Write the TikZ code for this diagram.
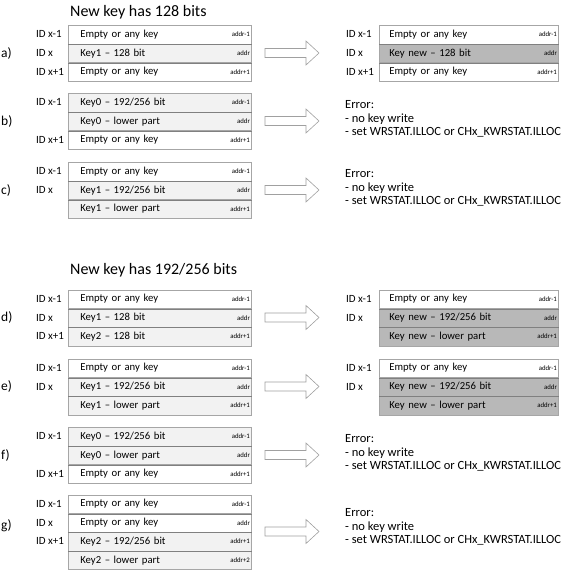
\documentclass[tikz,border=0pt]{standalone}
\usepackage{fontspec}
\setmainfont{Carlito}
\definecolor{lightrow}{HTML}{F2F2F2}
\definecolor{darkrow}{HTML}{B8B8B8}
\definecolor{boxline}{HTML}{A6A6A6}
\definecolor{divline}{HTML}{808080}
\definecolor{arrowline}{HTML}{A0A0A0}
\tikzset{
 rowL/.style={draw=boxline, line width=0.6pt, minimum height=18.7pt, text width=159pt,
   inner xsep=12pt, inner ysep=0pt, align=left, anchor=north west, text height=7.5pt, text depth=2pt,
   font=\fontsize{10.7}{12}\selectfont},
 rowR/.style={rowL, inner xsep=10pt},
 addrtxt/.style={anchor=east, inner xsep=1.5pt, inner ysep=0pt, font=\fontsize{6.8}{7}\selectfont},
 idlbl/.style={anchor=west, inner sep=0pt, font=\fontsize{11}{12}\selectfont},
 caselbl/.style={anchor=west, inner sep=0pt, font=\fontsize{13.5}{15}\selectfont},
 titletxt/.style={anchor=west, inner sep=0pt, font=\fontsize{16}{19}\selectfont},
 errtxt/.style={anchor=west, inner sep=0pt, align=left, font=\fontsize{12.5}{13.6}\selectfont},
 blockarrow/.style={draw=arrowline, fill=white, line width=0.6pt, line join=miter},
 divider/.style={draw=divline, line width=0.6pt},
}
\newcommand\keyrow[7]{%
 \node[#2, fill=#5] (#1) at (#3,#4) {#6};
 \node[addrtxt] (#1addr) at (#1.east) {#7};}
\newcommand\blkarrow[2]{%
 \coordinate (#1) at (265,#2);
 \draw[blockarrow] (#1) ++(0,-4.5) -- ++(41,0) -- ++(0,-7.5) -- ++(13,12) -- ++(-13,12) -- ++(0,-7.5) -- ++(-41,0) -- cycle;}
\newcommand\divline[1]{\draw[divider] (#1.south west) -- (#1.south east);}
\begin{document}
\begin{tikzpicture}[x=1pt,y=-1pt]
\useasboundingbox (0,0) rectangle (564,573);
% ---------- titles
\node[titletxt] (t1) at (70,12) {New key has 128 bits};
\node[titletxt] (t2) at (70,270) {New key has 192/256 bits};
% ---------- a)
\node[caselbl] (la) at (1,53.3) {a)};
\keyrow{a1}{rowL}{68}{25}{white}{Empty or any key}{addr-1}
\keyrow{a2}{rowL}{68}{43.7}{lightrow}{Key1 – 128 bit}{addr}
\keyrow{a3}{rowL}{68}{62.4}{white}{Empty or any key}{addr+1}
\divline{a1}\divline{a2}
\node[idlbl] at (36,34.35) {ID x-1};
\node[idlbl] at (36,53.05) {ID x};
\node[idlbl] at (36,71.75) {ID x+1};
\blkarrow{ara}{53}
\keyrow{ra1}{rowR}{379}{25}{white}{Empty or any key}{addr-1}
\keyrow{ra2}{rowR}{379}{43.7}{darkrow}{Key new – 128 bit}{addr}
\keyrow{ra3}{rowR}{379}{62.4}{white}{Empty or any key}{addr+1}
\divline{ra1}\divline{ra2}
\node[idlbl] at (346,34.35) {ID x-1};
\node[idlbl] at (346,53.05) {ID x};
\node[idlbl] at (346,71.75) {ID x+1};
% ---------- b)
\node[caselbl] (lb) at (1,121.3) {b)};
\keyrow{b1}{rowL}{68}{93}{lightrow}{Key0 – 192/256 bit}{addr-1}
\keyrow{b2}{rowL}{68}{111.7}{lightrow}{Key0 – lower part}{addr}
\keyrow{b3}{rowL}{68}{130.4}{white}{Empty or any key}{addr+1}
\divline{b1}\divline{b2}
\node[idlbl] at (36,102.35) {ID x-1};
\node[idlbl] at (36,139.75) {ID x+1};
\blkarrow{arb}{121}
\node[errtxt] (eb) at (345,119) {Error:\\- no key write\\- set WRSTAT.ILLOC or CHx\_KWRSTAT.ILLOC};
% ---------- c)
\node[caselbl] (lc) at (1,190.3) {c)};
\keyrow{c1}{rowL}{68}{162}{white}{Empty or any key}{addr-1}
\keyrow{c2}{rowL}{68}{180.7}{lightrow}{Key1 – 192/256 bit}{addr}
\keyrow{c3}{rowL}{68}{199.4}{lightrow}{Key1 – lower part}{addr+1}
\divline{c1}\divline{c2}
\node[idlbl] at (36,171.35) {ID x-1};
\node[idlbl] at (36,190.05) {ID x};
\blkarrow{arc}{190}
\node[errtxt] (ec) at (345,188) {Error:\\- no key write\\- set WRSTAT.ILLOC or CHx\_KWRSTAT.ILLOC};
% ---------- d)
\node[caselbl] (ld) at (1,317.8) {d)};
\keyrow{d1}{rowL}{68}{289.5}{white}{Empty or any key}{addr-1}
\keyrow{d2}{rowL}{68}{308.2}{lightrow}{Key1 – 128 bit}{addr}
\keyrow{d3}{rowL}{68}{326.9}{lightrow}{Key2 – 128 bit}{addr+1}
\divline{d1}\divline{d2}
\node[idlbl] at (36,298.85) {ID x-1};
\node[idlbl] at (36,317.55) {ID x};
\node[idlbl] at (36,336.25) {ID x+1};
\blkarrow{ard}{317.5}
\keyrow{rd1}{rowR}{379}{289.5}{white}{Empty or any key}{addr-1}
\keyrow{rd2}{rowR}{379}{308.2}{darkrow}{Key new – 192/256 bit}{addr}
\keyrow{rd3}{rowR}{379}{326.9}{darkrow}{Key new – lower part}{addr+1}
\divline{rd1}\divline{rd2}
\node[idlbl] at (346,298.85) {ID x-1};
\node[idlbl] at (346,317.55) {ID x};
% ---------- e)
\node[caselbl] (le) at (1,386.8) {e)};
\keyrow{e1}{rowL}{68}{358.5}{white}{Empty or any key}{addr-1}
\keyrow{e2}{rowL}{68}{377.2}{lightrow}{Key1 – 192/256 bit}{addr}
\keyrow{e3}{rowL}{68}{395.9}{lightrow}{Key1 – lower part}{addr+1}
\divline{e1}\divline{e2}
\node[idlbl] at (36,367.85) {ID x-1};
\node[idlbl] at (36,386.55) {ID x};
\blkarrow{are}{386.5}
\keyrow{re1}{rowR}{379}{358.5}{white}{Empty or any key}{addr-1}
\keyrow{re2}{rowR}{379}{377.2}{darkrow}{Key new – 192/256 bit}{addr}
\keyrow{re3}{rowR}{379}{395.9}{darkrow}{Key new – lower part}{addr+1}
\divline{re1}\divline{re2}
\node[idlbl] at (346,367.85) {ID x-1};
\node[idlbl] at (346,386.55) {ID x};
% ---------- f)
\node[caselbl] (lf) at (1,455.3) {f)};
\keyrow{f1}{rowL}{68}{427}{lightrow}{Key0 – 192/256 bit}{addr-1}
\keyrow{f2}{rowL}{68}{445.7}{lightrow}{Key0 – lower part}{addr}
\keyrow{f3}{rowL}{68}{464.4}{white}{Empty or any key}{addr+1}
\divline{f1}\divline{f2}
\node[idlbl] at (36,436.35) {ID x-1};
\node[idlbl] at (36,473.75) {ID x+1};
\blkarrow{arf}{455}
\node[errtxt] (ef) at (345,453) {Error:\\- no key write\\- set WRSTAT.ILLOC or CHx\_KWRSTAT.ILLOC};
% ---------- g)
\node[caselbl] (lg) at (1,526) {g)};
\keyrow{g1}{rowL}{68}{494.5}{white}{Empty or any key}{addr-1}
\keyrow{g2}{rowL}{68}{513.2}{white}{Empty or any key}{addr}
\keyrow{g3}{rowL}{68}{531.9}{lightrow}{Key2 – 192/256 bit}{addr+1}
\keyrow{g4}{rowL}{68}{550.6}{lightrow}{Key2 – lower part}{addr+2}
\divline{g1}\divline{g2}\divline{g3}
\node[idlbl] at (36,503.85) {ID x-1};
\node[idlbl] at (36,522.55) {ID x};
\node[idlbl] at (36,541.25) {ID x+1};
\blkarrow{arg}{531.5}
\node[errtxt] (eg) at (345,527) {Error:\\- no key write\\- set WRSTAT.ILLOC or CHx\_KWRSTAT.ILLOC};
\end{tikzpicture}
\end{document}
